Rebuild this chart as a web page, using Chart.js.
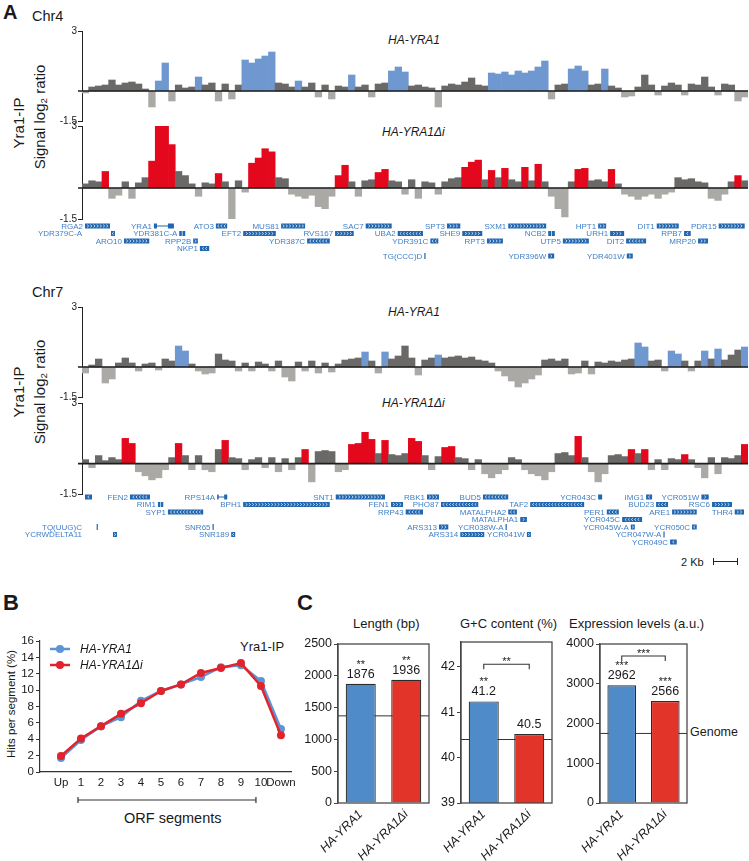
<!DOCTYPE html>
<html>
<head>
<meta charset="utf-8">
<script src="https://cdn.jsdelivr.net/npm/chart.js@4.4.1/dist/chart.umd.min.js"></script>
<style>
  body { margin: 0; width: 749px; height: 861px; overflow: hidden; background: #fff; position: relative;
         font-family: "Liberation Sans", Arial, sans-serif; color: #1a1a1a; }
  canvas { position: absolute; }
  .t { position: absolute; white-space: nowrap; line-height: 1; }
  .rot { transform: translate(-50%, -50%) rotate(-90deg); }
  .it { font-style: italic; }
  .big { font-weight: bold; font-size: 22px; }
  sub { font-size: 0.65em; vertical-align: -0.3em; line-height: 0; }
</style>
</head>
<body>

<div class="t big" style="left:3px;top:2px;font-size:20px">A</div>
<div class="t" style="left:32px;top:9px;font-size:14.5px">Chr4</div>
<div class="t rot" style="left:18px;top:123px;font-size:15px">Yra1-IP</div>
<div class="t rot" style="left:39px;top:117px;font-size:15px">Signal log<sub>2</sub> ratio</div>
<div class="t it" style="left:388px;top:34px;font-size:12px">HA-YRA1</div>
<div class="t it" style="left:382px;top:126px;font-size:12px">HA-YRA1&Delta;i</div>

<div class="t" style="left:32px;top:285px;font-size:14.5px">Chr7</div>
<div class="t rot" style="left:18px;top:392px;font-size:15px">Yra1-IP</div>
<div class="t rot" style="left:39px;top:392px;font-size:15px">Signal log<sub>2</sub> ratio</div>
<div class="t it" style="left:388px;top:306px;font-size:12px">HA-YRA1</div>
<div class="t it" style="left:382px;top:397px;font-size:12px">HA-YRA1&Delta;i</div>

<div class="t" style="left:681px;top:557px;font-size:11px">2 Kb</div>
<div style="position:absolute;left:713px;top:561px;width:25px;height:0;border-top:1.3px solid #222"></div>
<div style="position:absolute;left:713px;top:558px;width:0;height:7px;border-left:1.3px solid #222"></div>
<div style="position:absolute;left:737px;top:558px;width:0;height:7px;border-left:1.3px solid #222"></div>

<div class="t big" style="left:3px;top:592px">B</div>
<div class="t rot" style="left:12px;top:704px;font-size:11.5px">Hits per segment (%)</div>
<div class="t" style="left:240px;top:640px;font-size:13px">Yra1-IP</div>
<div class="t" style="left:124px;top:811px;font-size:14.5px">ORF segments</div>

<div class="t big" style="left:297px;top:592px">C</div>
<div class="t" style="left:353px;top:617px;font-size:13px">Length (bp)</div>
<div class="t" style="left:460px;top:617px;font-size:13px">G+C content (%)</div>
<div class="t" style="left:569px;top:617px;font-size:13px">Expression levels (a.u.)</div>
<div class="t" style="left:690px;top:726px;font-size:12.5px">Genome</div>

<canvas id="c4a" width="749" height="110" style="left:0px;top:21px"></canvas>
<canvas id="c4b" width="749" height="147" style="left:0px;top:116px"></canvas>
<canvas id="c7a" width="749" height="110" style="left:0px;top:297px"></canvas>
<canvas id="c7b" width="749" height="155" style="left:0px;top:393px"></canvas>
<canvas id="cB" width="300" height="201" style="left:0px;top:631px"></canvas>
<canvas id="cLen" width="133" height="229" style="left:298px;top:634px"></canvas>
<canvas id="cGC" width="133" height="231" style="left:421px;top:632px"></canvas>
<canvas id="cExp" width="129" height="229" style="left:560px;top:634px"></canvas>

<script>
// ---- Panel A: signal log2 ratio, 100 windows along each region ----
const chr4Yra1 = [
  -0.1, 0.2, 0.25, 0.3, 0.55, 0.3, 0.4, 0.45, 0.35, 0.1,
  -0.8, 0.5, 1.4, -0.5, 0.3, 0.15, 0.2, 0.7, 0.3, 0.4,
  -0.5, 0.35, -0.4, 0.3, 1.55, 1.4, 1.6, 1.75, 1.95, 0.4,
  0.35, 0.2, 0.5, 0.2, 0.4, -0.3, 0.3, -0.4, 0.25, 0.2,
  0.8, 0.2, 0.3, -0.3, 0.35, 0.4, 1.0, 1.2, 0.95, 0.25,
  0.3, 0.2, 0.15, -0.8, 0.25, 0.35, 0.3, 0.45, 0.65, 0.3,
  0.25, 0.9, 0.85, 0.95, 0.8, 1.0, 0.9, 1.0, 1.2, 1.5,
  -0.4, 0.3, 0.35, 1.1, 1.25, 1.0, 0.3, 0.35, 1.1, 0.25,
  0.15, -0.3, -0.25, 0.2, 0.8, 0.3, -0.2, 0.25, 0.4, 0.3,
  -0.2, 0.35, 0.3, 0.7, 0.2, -0.2, 0.35, 0.3, -0.5, -0.3
];
const chr4Yra1Hits = [[11, 12], [17, 17], [24, 28], [32, 32], [40, 40], [46, 48], [61, 69], [73, 75], [78, 78]];

const chr4Yra1di = [
  0.2, 0.35, 0.3, 0.8, -0.5, -0.35, 0.3, -0.5, 0.25, 0.5,
  1.3, 3.0, 3.0, 2.1, 0.8, 0.6, 0.2, -0.4, 0.25, 0.2,
  0.7, 0.3, -1.5, 0.35, -0.2, 1.2, 1.45, 1.9, 1.75, 0.5,
  0.45, -0.3, -0.4, -0.5, -0.35, -0.9, -1.0, -0.4, 0.6, 1.1,
  0.3, -0.4, 0.35, 0.4, 0.75, 0.9, 0.35, 0.3, -0.3, 0.4,
  -0.5, 0.3, 0.25, -0.3, 0.3, 0.45, 0.5, 1.0, 1.25, 1.35,
  0.4, 0.85, 0.5, 0.95, 0.4, 0.3, 1.0, 0.35, 1.15, 0.3,
  -0.4, -1.0, -1.4, 0.3, 0.9, 0.95, 0.35, 0.4, 0.3, 0.9,
  0.2, -0.3, -0.4, -0.55, -0.4, -0.3, -0.5, -0.3, -0.2, 0.5,
  0.4, 0.45, 0.3, 0.25, -0.5, -0.6, -0.3, 0.3, 0.6, 0.35
];
const chr4Yra1diHits = [[3, 3], [10, 13], [20, 20], [25, 28], [38, 39], [44, 45], [57, 59], [61, 61], [63, 63],
  [66, 66], [68, 68], [74, 75], [79, 79], [98, 98]];

const chr7Yra1 = [
  -0.3, 0.1, 0.4, -0.8, -0.6, 0.2, 0.45, 0.2, -0.2, 0.15,
  0.2, -0.15, 0.4, 0.3, 1.05, 0.8, 0.15, -0.2, -0.35, -0.3,
  0.65, 0.35, 0.3, -0.2, 0.2, -0.2, 0.25, 0.15, -0.2, 0.3,
  -0.5, -0.7, 0.25, -0.2, 0.3, -0.3, 0.2, -0.25, 0.15, 0.35,
  0.4, 0.45, 0.75, 0.3, -0.3, 0.75, 0.4, 0.55, 1.05, 0.45,
  -0.4, 0.35, 0.45, 0.6, 0.45, 0.5, 0.55, 0.45, 0.5, 0.35,
  0.3, 0.2, -0.2, -0.45, -0.7, -1.0, -0.8, -0.6, -0.4, 0.35,
  0.4, 0.3, 0.4, -0.35, -0.3, 0.3, -0.35, 0.25, 0.2, 0.3,
  0.25, 0.35, 0.4, 1.2, 1.0, 0.3, 0.35, -0.2, 0.8, 0.65,
  0.3, -0.2, 0.3, 0.8, 0.4, 0.9, 0.35, 0.6, 0.85, 1.0
];
const chr7Yra1Hits = [[14, 15], [42, 42], [45, 45], [53, 53], [83, 84], [88, 89], [93, 93], [95, 95], [99, 99]];

const chr7Yra1di = [
  0.2, -0.2, 0.4, 0.15, 0.3, 0.2, 1.25, 1.0, -0.4, -0.6,
  -0.8, -0.7, -0.3, 0.3, 1.0, 0.4, -0.3, 0.4, -0.3, -0.4,
  0.7, 1.15, 0.3, 0.25, -0.3, 0.2, 0.3, -0.2, 0.3, -0.4,
  0.25, -0.3, 0.3, 0.7, -0.9, 0.6, 0.65, 0.6, -0.4, -0.3,
  0.95, 1.0, 1.55, 1.2, 0.5, 1.15, 0.45, 0.4, 0.5, 1.25,
  1.1, 0.4, -0.3, 0.35, 0.8, 0.85, 0.3, 0.25, -0.3, 0.2,
  -0.5, -0.7, -0.5, -0.3, 0.3, 0.2, -0.3, -0.5, -0.6, -0.8,
  -0.4, 0.5, 0.55, 0.4, 1.35, 0.3, -0.4, -0.9, -0.5, 0.4,
  0.45, 0.35, 0.7, 0.5, 0.7, -0.3, 0.2, -0.3, 0.25, 0.2,
  0.45, 0.2, -0.2, -0.7, 0.3, -0.5, 0.3, 0.25, 0.4, 0.95
];
const chr7Yra1diHits = [[6, 7], [14, 14], [21, 21], [33, 33], [40, 43], [45, 45], [49, 50], [54, 55], [74, 74],
  [82, 82], [84, 84], [90, 90], [99, 99]];

const trackTicks = [-1.5, 3];

// genes: name, start, end (in window units), kind, row, label at left edge
const chr4Genes = [
  ['RGA2', 0.45, 4.2, '>', 0], ['YRA1', 10.8, 13.8, 'i', 0], ['ATO3', 20.1, 21.8, '<', 0],
  ['MUS81', 29.9, 33.5, '>', 0], ['SAC7', 42.6, 46.5, '>', 0], ['SPT3', 54.8, 56.8, '>', 0],
  ['SXM1', 64.0, 69.7, '>', 0], ['HPT1', 77.5, 78.7, '>', 0], ['DIT1', 86.3, 89.6, '>', 0],
  ['PDR15', 95.6, 99.5, '>', 0],
  ['YDR379C-A', 4.35, 4.95, '<', 1, true], ['YDR381C-A', 14.6, 15.5, 'h', 1], ['EFT2', 24.2, 29.1, '>', 1],
  ['RVS167', 38.0, 40.8, '>', 1], ['UBA2', 47.4, 51.2, '<', 1], ['SHE9', 57.1, 60.1, '>', 1],
  ['NCB2', 70.0, 71.0, 'h', 1], ['URH1', 79.3, 81.4, '>', 1], ['RPB7', 90.4, 91.4, '<', 1],
  ['ARO10', 6.3, 10.1, '>', 2], ['RPP2B', 16.7, 17.4, '>', 2], ['YDR387C', 33.8, 37.2, '<', 2],
  ['YDR391C', 52.3, 53.5, '<', 2], ['RPT3', 60.8, 63.2, '>', 2], ['UTP5', 72.2, 76.1, '>', 2],
  ['DIT2', 81.7, 84.7, '<', 2], ['MRP20', 92.5, 94.0, '>', 2],
  ['NKP1', 17.7, 19.1, '<', 3],
  ['TG(CCC)D', 51.4, 51.6, 'l', 4], ['YDR396W', 70.0, 70.9, '>', 4], ['YDR401W', 81.8, 82.7, '>', 4]
];
const chr7Genes = [
  ['', 0.45, 1.5, '<', 0], ['FEN2', 7.2, 10.2, '<', 0], ['RPS14A', 20.3, 21.8, 'i', 0],
  ['SNT1', 38.1, 45.5, '>', 0], ['RBK1', 51.8, 53.6, '>', 0], ['BUD5', 60.2, 64.0, '<', 0],
  ['YCR043C', 77.5, 78.1, 'b', 0], ['IMG1', 84.7, 85.6, '<', 0], ['YCR051W', 93.0, 94.1, '>', 0],
  ['RIM1', 11.4, 12.2, 'h', 1], ['BPH1', 24.2, 37.2, '>', 1], ['FEN1', 46.4, 48.2, '>', 1],
  ['PHO87', 53.9, 59.5, '<', 1], ['TAF2', 67.3, 75.4, '<', 1], ['BUD23', 86.2, 88.0, '<', 1],
  ['RSC6', 94.6, 97.6, '>', 1],
  ['SYP1', 12.9, 18.2, '<', 2], ['RRP43', 48.6, 51.2, '<', 2], ['MATALPHA2', 64.0, 65.3, '<', 2],
  ['PER1', 78.8, 80.6, '<', 2], ['ARE1', 88.6, 92.3, '>', 2], ['THR4', 98.0, 99.4, '>', 2],
  ['MATALPHA1', 65.8, 66.8, '>', 3], ['YCR045C', 81.1, 84.1, '<', 3],
  ['TQ(UUG)C', 2.2, 2.4, 'l', 4, true], ['SNR65', 19.6, 19.8, 'l', 4], ['ARS313', 53.6, 55.0, '>', 4],
  ['YCR038W-A', 63.6, 63.8, 'l', 4], ['YCR045W-A', 82.4, 83.0, '>', 4], ['YCR050C', 91.6, 92.3, '<', 4],
  ['YCRWDELTA11', 4.65, 5.25, '>', 5, true], ['SNR189', 22.4, 23.0, '<', 5], ['ARS314', 56.8, 60.4, '>', 5],
  ['YCR041W', 66.8, 67.4, '>', 5], ['YCR047W-A', 87.3, 87.5, 'l', 5],
  ['YCR049C', 88.3, 89.3, '<', 6]
];

// ---- Panel B ----
const segLabels = ['Up', '1', '2', '3', '4', '5', '6', '7', '8', '9', '10', 'Down'];
const hitsYra1 = [1.7, 3.9, 5.6, 6.7, 8.7, 9.9, 10.7, 11.6, 12.8, 13.05, 11.1, 5.25];
const hitsYra1di = [1.95, 4.1, 5.6, 7.1, 8.4, 9.9, 10.7, 12.1, 12.7, 13.3, 10.5, 4.5];

// ---- Panel C ----
const strains = ['HA-YRA1', 'HA-YRA1\u0394i'];
const lengthBp = [1876, 1936];
const lengthGenome = 1370;
const lengthStars = ['**', '**'];
const gcContent = [41.24, 40.52];
const gcGenome = 40.4;
const gcStars = ['**', ''];
const exprLevels = [2962, 2566];
const exprGenome = 1750;
const exprStars = ['***', '***'];

const FONT = '"Liberation Sans", Arial, sans-serif';
const DARK = '#6a6967', LIGHT = '#aaa9a6', HIT_BLUE = '#6f98d0', HIT_RED = '#e3081c';
const GENE_BOX = '#2166b0', GENE_TXT = '#3f7fc6';

const windows = chr4Yra1.map((_, i) => i);

function inHit(hits, i) {
  return hits.some(([a, b]) => i >= a && i <= b);
}

const zeroLine = {
  id: 'zeroLine',
  afterDatasetsDraw(chart) {
    const { ctx, chartArea: a, scales: { y } } = chart;
    const zy = y.getPixelForValue(0);
    ctx.save();
    ctx.strokeStyle = '#1e1e1e';
    ctx.lineWidth = 1.6;
    ctx.beginPath();
    ctx.moveTo(a.left - 4, zy);
    ctx.lineTo(a.right, zy);
    ctx.stroke();
    ctx.restore();
  }
};

const geneTrack = {
  id: 'geneTrack',
  afterDraw(chart, args, opts) {
    if (!opts.genes) return;
    const { ctx, chartArea: a, scales: { x } } = chart;
    ctx.save();
    ctx.font = '8px ' + FONT;
    ctx.textBaseline = 'middle';
    ctx.textAlign = 'right';
    opts.genes.forEach(([name, s, e, kind, row, leftLabel]) => {
      const x1 = x.getPixelForValue(s - 0.5);
      const x2 = x.getPixelForValue(e - 0.5);
      const w = Math.max(x2 - x1, 1.2);
      const cy = a.bottom + opts.first + row * 7.5;
      ctx.fillStyle = GENE_BOX;
      if (kind === 'l') {
        ctx.fillRect(x1, cy - 3, 1.2, 6);
      } else if (kind === 'i') {
        ctx.fillRect(x1, cy - 2.5, w * 0.15, 5);
        ctx.fillRect(x1 + w * 0.7, cy - 2.5, w * 0.3, 5);
        ctx.fillRect(x1, cy - 0.5, w, 1);
      } else {
        ctx.fillRect(x1, cy - 2.5, w, 5);
        ctx.strokeStyle = '#fff';
        ctx.lineWidth = 0.7;
        if (kind === 'h') {
          ctx.beginPath();
          ctx.moveTo(x1 + w / 2, cy - 2.5);
          ctx.lineTo(x1 + w / 2, cy + 2.5);
          ctx.stroke();
        } else if (kind === '>' || kind === '<') {
          const n = Math.max(1, Math.floor((w - 1.5) / 3.2));
          const dir = kind === '>' ? 1 : -1;
          for (let k = 0; k < n; k++) {
            const cx = x1 + (w - n * 3.2) / 2 + k * 3.2 + 1.6;
            ctx.beginPath();
            ctx.moveTo(cx - dir * 0.8, cy - 1.4);
            ctx.lineTo(cx + dir * 0.8, cy);
            ctx.lineTo(cx - dir * 0.8, cy + 1.4);
            ctx.stroke();
          }
        }
      }
      if (name) {
        ctx.fillStyle = GENE_TXT;
        ctx.fillText(name, leftLabel ? a.left : x1 - 2, cy + 0.5);
      }
    });
    ctx.restore();
  }
};

function trackChart(id, values, hits, hitColor, padBottom, genes, first) {
  const colors = values.map((v, i) => inHit(hits, i) ? hitColor : (v >= 0 ? DARK : LIGHT));
  return new Chart(document.getElementById(id), {
    type: 'bar',
    data: {
      labels: windows,
      datasets: [{
        data: values,
        backgroundColor: colors,
        borderWidth: 0,
        barPercentage: 1,
        categoryPercentage: 1
      }]
    },
    options: {
      responsive: false,
      animation: false,
      layout: { padding: { top: 10, bottom: padBottom, right: 1, left: 0 } },
      plugins: {
        legend: { display: false },
        tooltip: { enabled: false },
        geneTrack: { genes: genes, first: first }
      },
      scales: {
        x: { display: false },
        y: {
          min: -1.5,
          max: 3,
          afterFit: s => { s.width = 82; },
          afterBuildTicks: s => { s.ticks = trackTicks.map(v => ({ value: v })); },
          grid: { drawOnChartArea: false, tickLength: 4, color: '#222', lineWidth: 1 },
          border: { color: '#222', width: 1 },
          ticks: { font: { size: 10, family: FONT }, color: '#222', padding: 1, callback: v => String(v) }
        }
      }
    },
    plugins: [zeroLine, geneTrack]
  });
}

trackChart('c4a', chr4Yra1, chr4Yra1Hits, HIT_BLUE, 10, null, 0);
trackChart('c4b', chr4Yra1di, chr4Yra1diHits, HIT_RED, 44, chr4Genes, 7);
trackChart('c7a', chr7Yra1, chr7Yra1Hits, HIT_BLUE, 10, null, 0);
trackChart('c7b', chr7Yra1di, chr7Yra1diHits, HIT_RED, 54, chr7Genes, 3);

// ---- Panel B chart ----
const segDecor = {
  id: 'segDecor',
  afterDraw(chart, args, opts) {
    const { ctx, chartArea: a, scales: { x } } = chart;
    ctx.save();
    chart.data.datasets.forEach((ds, i) => {
      const y = a.top + 8 + i * 16;
      ctx.strokeStyle = ds.borderColor;
      ctx.lineWidth = 2.5;
      ctx.beginPath();
      ctx.moveTo(a.left + 10, y);
      ctx.lineTo(a.left + 30, y);
      ctx.stroke();
      ctx.fillStyle = ds.borderColor;
      ctx.beginPath();
      ctx.arc(a.left + 20, y, 4, 0, Math.PI * 2);
      ctx.fill();
      ctx.fillStyle = '#1a1a1a';
      ctx.font = 'italic 12px ' + FONT;
      ctx.textBaseline = 'middle';
      ctx.fillText(ds.label, a.left + 40, y + 0.5);
    });
    const by = a.bottom + 28;
    const x1 = x.getPixelForValue(opts.from), x2 = x.getPixelForValue(opts.to);
    ctx.strokeStyle = '#333';
    ctx.lineWidth = 1.2;
    ctx.beginPath();
    ctx.moveTo(x1, by - 3); ctx.lineTo(x1, by + 3);
    ctx.moveTo(x1, by); ctx.lineTo(x2, by);
    ctx.moveTo(x2, by - 3); ctx.lineTo(x2, by + 3);
    ctx.stroke();
    ctx.restore();
  }
};

new Chart(document.getElementById('cB'), {
  type: 'line',
  data: {
    datasets: [
      {
        label: 'HA-YRA1',
        data: hitsYra1.map((v, i) => ({ x: i, y: v })),
        borderColor: '#5b95d5', backgroundColor: '#5b95d5',
        borderWidth: 2.5, pointRadius: 4, pointBorderWidth: 0, order: 1
      },
      {
        label: 'HA-YRA1\u0394i',
        data: hitsYra1di.map((v, i) => ({ x: i, y: v })),
        borderColor: '#e2232b', backgroundColor: '#e2232b',
        borderWidth: 2.5, pointRadius: 4, pointBorderWidth: 0, order: 0
      }
    ]
  },
  options: {
    responsive: false,
    animation: false,
    layout: { padding: { top: 10, right: 8, bottom: 40 } },
    plugins: {
      legend: { display: false },
      tooltip: { enabled: false },
      segDecor: { from: 0.85, to: 9.75 }
    },
    scales: {
      x: {
        type: 'linear',
        min: -1.05,
        max: 11.55,
        afterFit: s => { s.height = 20; },
        afterBuildTicks: s => { s.ticks = segLabels.map((_, i) => ({ value: i })); },
        grid: { display: false, drawTicks: false },
        border: { color: '#333', width: 1.2 },
        ticks: { callback: v => segLabels[v], autoSkip: false, maxRotation: 0,
                 font: { size: 11.5, family: FONT }, color: '#1a1a1a', padding: 4 }
      },
      y: {
        min: 0,
        max: 16,
        afterFit: s => { s.width = 40; },
        grid: { drawOnChartArea: false, tickLength: 4, color: '#333' },
        border: { color: '#333', width: 1.2 },
        ticks: { stepSize: 2, autoSkip: false, font: { size: 11.5, family: FONT }, color: '#1a1a1a', padding: 2 }
      }
    }
  },
  plugins: [segDecor]
});

// ---- Panel C charts ----
const statMarks = {
  id: 'statMarks',
  beforeDatasetsDraw(chart, args, opts) {
    const { ctx, chartArea: a, scales: { y } } = chart;
    const gy = y.getPixelForValue(opts.genome);
    ctx.save();
    ctx.strokeStyle = '#333';
    ctx.lineWidth = 1;
    ctx.beginPath();
    ctx.moveTo(a.left, gy);
    ctx.lineTo(a.right, gy);
    ctx.stroke();
    ctx.restore();
  },
  afterDatasetsDraw(chart, args, opts) {
    const { ctx, chartArea: a, scales: { y } } = chart;
    const bars = chart.getDatasetMeta(0).data;
    const vals = chart.data.datasets[0].data;
    ctx.save();
    ctx.strokeStyle = '#4a4a4a';
    ctx.lineWidth = 1.3;
    ctx.strokeRect(a.left, a.top, a.right - a.left, a.bottom - a.top);
    ctx.fillStyle = '#1a1a1a';
    ctx.textAlign = 'center';
    ctx.textBaseline = 'alphabetic';
    bars.forEach((b, i) => {
      ctx.font = '12.5px ' + FONT;
      ctx.fillText(vals[i].toFixed(opts.decimals), b.x, b.y - 6);
      if (opts.stars[i]) {
        ctx.font = '11px ' + FONT;
        ctx.fillText(opts.stars[i], b.x, b.y - 16);
      }
    });
    if (opts.bracket) {
      const by = y.getPixelForValue(opts.bracket.level);
      const x1 = bars[0].x, x2 = bars[1].x;
      ctx.strokeStyle = '#333';
      ctx.lineWidth = 1.1;
      ctx.beginPath();
      ctx.moveTo(x1, by + 5); ctx.lineTo(x1, by); ctx.lineTo(x2, by); ctx.lineTo(x2, by + 5);
      ctx.stroke();
      ctx.font = '11px ' + FONT;
      ctx.fillText(opts.bracket.label, (x1 + x2) / 2, by + 1);
    }
    ctx.restore();
  }
};

function statChart(id, values, yMin, yMax, yTicks, marks) {
  return new Chart(document.getElementById(id), {
    type: 'bar',
    data: {
      labels: strains,
      datasets: [{
        data: values,
        backgroundColor: ['#4f8bc9', '#e3342a'],
        borderColor: '#2b2b2b',
        borderWidth: 1.2,
        barPercentage: 0.66,
        categoryPercentage: 1
      }]
    },
    options: {
      responsive: false,
      animation: false,
      layout: { padding: { top: 10, right: 2, bottom: 0 } },
      plugins: { legend: { display: false }, tooltip: { enabled: false }, statMarks: marks },
      scales: {
        x: {
          afterFit: s => { s.height = 60; },
          grid: { display: false, drawTicks: false },
          border: { display: false },
          ticks: { minRotation: 45, maxRotation: 45, padding: 4,
                   font: { size: 12.5, style: 'italic', family: FONT }, color: '#1a1a1a' }
        },
        y: {
          min: yMin,
          max: yMax,
          afterFit: s => { s.width = 40; },
          afterBuildTicks: s => { s.ticks = yTicks.map(v => ({ value: v })); },
          grid: { drawOnChartArea: false, tickLength: 4, color: '#444' },
          border: { color: '#444', width: 1.3 },
          ticks: { autoSkip: false, callback: v => String(v),
                   font: { size: 12.5, family: FONT }, color: '#1a1a1a', padding: 2 }
        }
      }
    },
    plugins: [statMarks]
  });
}

statChart('cLen', lengthBp, 0, 2500, [0, 500, 1000, 1500, 2000, 2500],
  { genome: lengthGenome, stars: lengthStars, decimals: 0 });
statChart('cGC', gcContent, 39, 42.55, [39, 40, 41, 42],
  { genome: gcGenome, stars: gcStars, decimals: 1, bracket: { level: 42.06, label: '**' } });
statChart('cExp', exprLevels, 0, 4000, [0, 1000, 2000, 3000, 4000],
  { genome: exprGenome, stars: exprStars, decimals: 0, bracket: { level: 3700, label: '***' } });
</script>
</body>
</html>
